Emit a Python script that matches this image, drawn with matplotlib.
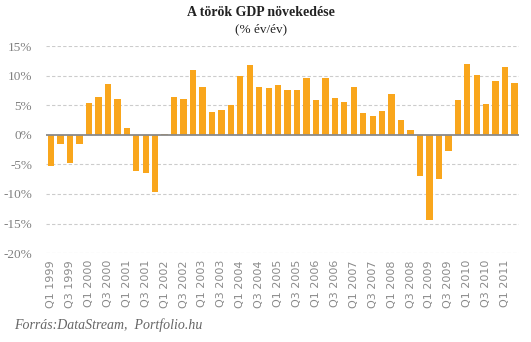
import numpy as np
import matplotlib.pyplot as plt

# quarterly Turkish GDP growth, % y/y, Q1 1999 - Q2 2011
quarters = [f"Q{q} {y}" for y in range(1999, 2012) for q in range(1, 5)][:50]
growth = [-5.2, -1.6, -4.8, -1.6,
          5.4, 6.4, 8.55, 6.05,
          1.2, -6.2, -6.45, -9.6,
          0.2, 6.4, 6.05, 10.9,
          8.05, 3.9, 4.2, 5.05,
          9.95, 11.8, 8.05, 7.9,
          8.4, 7.55, 7.55, 9.7,
          5.9, 9.55, 6.2, 5.55,
          8.05, 3.7, 3.2, 4.05,
          6.9, 2.55, 0.9, -6.9,
          -14.4, -7.55, -2.7, 5.9,
          12.05, 10.05, 5.2, 9.05,
          11.4, 8.7]
yticks = [15, 10, 5, 0, -5, -10, -15, -20]

fig = plt.figure(figsize=(5.31, 3.42), dpi=100)
ax = fig.add_axes([0.0866, 0.26, 0.977 - 0.0866, 0.865 - 0.26])

x = np.arange(len(growth))
ax.bar(x, growth, width=0.67, color="#F9A61C", zorder=3)

ax.set_ylim(-20, 15)
ax.set_xlim(-0.55, len(growth) - 0.55)
ax.set_yticks(yticks)
ax.set_yticklabels([f"{v}%" for v in yticks], fontfamily="Liberation Serif",
                   fontsize=9.5, color="#808080")
for v in yticks:
    if v != 0:
        ax.axhline(v, color="#cccccc", lw=0.8, ls=(0, (3, 2)), zorder=1)
ax.axhline(0, color="#8a8a8a", lw=1.3, zorder=4)

ax.set_xticks(x[::2])
ax.set_xticklabels(quarters[::2], rotation=90, fontsize=8, color="#8a8a8a")
ax.tick_params(axis="both", length=0)
ax.tick_params(axis="y", pad=10)
ax.tick_params(axis="x", pad=5)
for s in ax.spines.values():
    s.set_visible(False)

fig.text(0.492, 0.962, "A török GDP növekedése", ha="center", va="center",
         fontfamily="Liberation Serif", fontweight="bold", fontsize=10, color="#222222")
fig.text(0.492, 0.914, "(% év/év)", ha="center", va="center",
         fontfamily="Liberation Serif", fontsize=9.5, color="#222222")
fig.text(0.026, 0.05, "Forrás:DataStream,  Portfolio.hu", ha="left", va="center",
         fontfamily="Liberation Serif", fontstyle="italic", fontsize=10, color="#666666")

fig.savefig("out.png", dpi=100)
